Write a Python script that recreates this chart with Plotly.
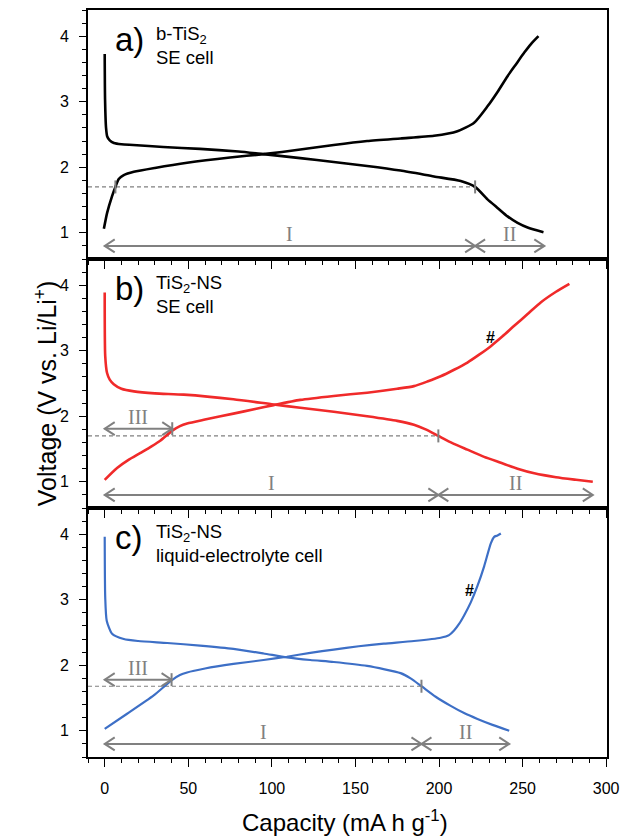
import plotly.graph_objects as go
from plotly.subplots import make_subplots

# ---------------- data ----------------
# panel a : b-TiS2, SE cell
a_dis_x = [0, 0.2, 0.8, 1.5, 3, 5.5, 10, 17, 35, 57, 80, 95, 117, 137, 157, 177, 197, 213, 221.6, 229, 235, 241, 247, 253, 262.5]
a_dis_y = [3.73, 3.04, 2.6, 2.47, 2.41, 2.37, 2.35, 2.34, 2.31, 2.28, 2.24, 2.2, 2.14, 2.08, 2.02, 1.95, 1.86, 1.79, 1.70, 1.51, 1.38, 1.25, 1.15, 1.08, 1.01]
a_chg_x = [-0.5, 1.4, 4.4, 6.4, 8.4, 11.4, 17.4, 30, 49.3, 75, 95, 117, 137, 157, 177, 197, 211, 221, 229, 235, 241, 246, 251, 255, 259.5]
a_chg_y = [1.06, 1.30, 1.56, 1.70, 1.82, 1.88, 1.93, 1.99, 2.07, 2.15, 2.2, 2.27, 2.34, 2.40, 2.44, 2.48, 2.55, 2.68, 2.93, 3.15, 3.39, 3.57, 3.75, 3.88, 4.0]

# panel b : TiS2-NS, SE cell
b_dis_x = [0, 0.3, 1.4, 3, 5.4, 10, 17.5, 30, 47.3, 77, 101, 117, 137, 157, 175, 185, 192, 199.6, 208, 217, 227, 237, 247, 257, 270, 282, 292]
b_dis_y = [3.89, 2.92, 2.66, 2.56, 2.49, 2.42, 2.38, 2.35, 2.33, 2.26, 2.18, 2.13, 2.07, 2.0, 1.93, 1.87, 1.8, 1.70, 1.59, 1.49, 1.38, 1.29, 1.2, 1.13, 1.07, 1.03, 1.0]
b_chg_x = [0, 7.4, 14, 21.4, 28, 33.4, 40.4, 45, 49.3, 60, 77, 90, 101, 117, 137, 157, 175, 185, 193, 201, 209, 217, 224, 231, 238, 245, 253, 261, 270, 278]
b_chg_y = [1.03, 1.21, 1.33, 1.44, 1.54, 1.63, 1.78, 1.85, 1.89, 1.95, 2.04, 2.11, 2.17, 2.25, 2.31, 2.36, 2.42, 2.46, 2.53, 2.61, 2.71, 2.82, 2.94, 3.07, 3.22, 3.38, 3.56, 3.74, 3.9, 4.02]

# panel c : TiS2-NS, liquid-electrolyte cell
c_dis_x = [0, 0.3, 1.2, 4.4, 11.4, 20, 37.4, 57, 77, 95, 109, 123, 137, 157, 177, 183, 189.5, 198, 207, 215, 223, 232, 242]
c_dis_y = [3.96, 3.04, 2.68, 2.48, 2.40, 2.37, 2.34, 2.30, 2.25, 2.18, 2.12, 2.08, 2.05, 1.99, 1.88, 1.80, 1.68, 1.52, 1.38, 1.27, 1.18, 1.09, 1.0]
c_chg_x = [0, 13.4, 29.3, 40, 45, 49.3, 60, 77, 95, 109, 123, 137, 152, 167, 185, 201, 206, 209, 212, 215, 219, 223, 227, 231, 233, 235, 237]
c_chg_y = [1.03, 1.26, 1.54, 1.77, 1.85, 1.89, 1.95, 2.02, 2.08, 2.13, 2.19, 2.24, 2.29, 2.33, 2.37, 2.42, 2.46, 2.53, 2.63, 2.76, 2.96, 3.21, 3.51, 3.86, 3.96, 3.98, 4.01]

# region boundaries (capacity) and voltages
cutoff_v = [1.70, 1.70, 1.68]
region_I_end = [221.6, 199.6, 189.5]
region_II_end = [263, 292, 242]
region_III_end = [None, 40.4, 40]
region_III_v = [None, 1.81, 1.78]
charge_cut_x = [6.4, None, None]
arrow_v = 0.8
hash_x = [None, 230.5, 218]
hash_y = [None, 3.2, 3.14]

panel_letters = ["a)", "b)", "c)"]
panel_line1 = ["b-TiS<sub>2</sub>", "TiS<sub>2</sub>-NS", "TiS<sub>2</sub>-NS"]
panel_line2 = ["SE cell", "SE cell", "liquid-electrolyte cell"]
colors = ["#000000", "#f02a2a", "#3d6fc6"]

x_ticks = [0, 50, 100, 150, 200, 250, 300]
y_ticks = [1, 2, 3, 4]

# ---------------- figure ----------------
XR = [-10, 300.5]
YR = [0.6, 4.4]
W, H = 620, 839
ML, MR, MT, MB = 88, 13, 10, 82
pw = W - ML - MR
ph = H - MT - MB
ph_panel = ph / 3
ux = pw / (XR[1] - XR[0])          # px per capacity unit
uy = ph_panel / (YR[1] - YR[0])    # px per volt

GRAY = "#808080"
FONT = "Arial, Liberation Sans, sans-serif"
SERIF = "Times New Roman, Liberation Serif, serif"

fig = make_subplots(rows=3, cols=1, vertical_spacing=0)

data = [(a_dis_x, a_dis_y, a_chg_x, a_chg_y),
        (b_dis_x, b_dis_y, b_chg_x, b_chg_y),
        (c_dis_x, c_dis_y, c_chg_x, c_chg_y)]

hx = 10 / ux     # chevron length
hy = 6.5 / uy    # chevron half-height
tk = 6.5 / uy    # small marker tick half-height


def double_arrow(x0, x1, y):
    xs = [x0, x1, None,
          x0 + hx, x0, x0 + hx, None,
          x1 - hx, x1, x1 - hx]
    ys = [y, y, None,
          y + hy, y, y - hy, None,
          y + hy, y, y - hy]
    return xs, ys


for i, (dx, dy, cx, cy) in enumerate(data):
    r = i + 1
    col = colors[i]
    # dashed cutoff line
    fig.add_trace(go.Scatter(x=[XR[0], region_I_end[i]], y=[cutoff_v[i], cutoff_v[i]], mode="lines",
                             line=dict(color=GRAY, width=1.2, dash="4px,3px"), showlegend=False,
                             hoverinfo="skip"), row=r, col=1)
    # curves
    for xs, ys in ((dx, dy), (cx, cy)):
        fig.add_trace(go.Scatter(x=xs, y=ys, mode="lines",
                                 line=dict(color=col, width=2.6 if i < 2 else 2.2, shape="spline", smoothing=0.6),
                                 showlegend=False), row=r, col=1)
    # region arrows
    ax, ay = [], []
    for (x0, x1, yv) in [(0, region_I_end[i], arrow_v),
                         (region_I_end[i], region_II_end[i], arrow_v)] + \
                        ([(0, region_III_end[i], region_III_v[i])] if region_III_end[i] else []):
        xs, ys = double_arrow(x0, x1, yv)
        ax += xs + [None]
        ay += ys + [None]
    # small vertical marks
    marks = [(region_I_end[i], cutoff_v[i])]
    if region_III_end[i]:
        marks.append((region_III_end[i], region_III_v[i]))
    if charge_cut_x[i]:
        marks.append((charge_cut_x[i], cutoff_v[i]))
    for mx, my in marks:
        ax += [mx, mx, None]
        ay += [my - tk, my + tk, None]
    fig.add_trace(go.Scatter(x=ax, y=ay, mode="lines", line=dict(color=GRAY, width=2),
                             showlegend=False, hoverinfo="skip"), row=r, col=1)

    # region labels
    xa = "x" if r == 1 else f"x{r}"
    ya = "y" if r == 1 else f"y{r}"
    labels = [("I", (0 + region_I_end[i]) / 2, arrow_v),
              ("II", (region_I_end[i] + region_II_end[i]) / 2, arrow_v)]
    if region_III_end[i]:
        labels.append(("III", region_III_end[i] / 2, region_III_v[i]))
    for t, lx, ly in labels:
        fig.add_annotation(x=lx, y=ly, xref=xa, yref=ya, text=t, showarrow=False,
                           yanchor="bottom", yshift=-1,
                           font=dict(family=SERIF, size=20, color=GRAY))
    # hash marks
    if hash_x[i] is not None:
        fig.add_annotation(x=hash_x[i], y=hash_y[i], xref=xa, yref=ya, text="<b>#</b>", showarrow=False,
                           font=dict(family=FONT, size=16, color="black"))
    # panel texts
    fig.add_annotation(x=0.048, y=0.965, xref=f"{xa} domain", yref=f"{ya} domain", text=panel_letters[i],
                       showarrow=False, xanchor="left", yanchor="top",
                       font=dict(family=FONT, size=33, color="black"))
    fig.add_annotation(x=0.128, y=0.955, xref=f"{xa} domain", yref=f"{ya} domain",
                       text=panel_line1[i] + "<br>" + panel_line2[i], align="left",
                       showarrow=False, xanchor="left", yanchor="top",
                       font=dict(family=FONT, size=18.5, color="black"))

for r in range(1, 4):
    fig.update_xaxes(range=XR, tickvals=x_ticks, ticks="outside", ticklen=8, tickwidth=1.3,
                     tickcolor="black", showline=True, linecolor="black", linewidth=1.6, mirror=True,
                     showgrid=False, zeroline=False, showticklabels=(r == 3), automargin=False,
                     ticklabelstandoff=8,
                     tickfont=dict(family=FONT, size=16, color="black"),
                     minor=dict(dtick=10, tick0=0, ticks="outside", ticklen=4, tickwidth=1.2, tickcolor="black"),
                     row=r, col=1)
    fig.update_yaxes(range=YR, tickvals=y_ticks, ticks="outside", ticklen=7, tickwidth=1.3,
                     tickcolor="black", showline=True, linecolor="black", linewidth=1.6, mirror=True,
                     showgrid=False, zeroline=False, ticklabelstandoff=7, automargin=False,
                     tickfont=dict(family=FONT, size=16, color="black"),
                     minor=dict(dtick=0.2, tick0=0, ticks="outside", ticklen=4, tickwidth=1.2, tickcolor="black"),
                     row=r, col=1)

# axis titles
fig.add_annotation(x=(28 - ML) / pw, y=0.487, xref="paper", yref="paper", text="Voltage (V vs. Li/Li<sup>+</sup>)",
                   textangle=-90, showarrow=False, font=dict(family=FONT, size=25, color="black"))
fig.add_annotation(x=(345 - ML) / pw, y=(H - MB - 838) / ph, xref="paper", yref="paper",
                   yanchor="bottom", text="Capacity (mA h g<sup>-1</sup>)", showarrow=False,
                   font=dict(family=FONT, size=24, color="black"))

fig.update_layout(width=W, height=H, margin=dict(l=ML, r=MR, t=MT, b=MB),
                  plot_bgcolor="white", paper_bgcolor="white", showlegend=False)

fig.write_html("out.html", config={"displayModeBar": False},
               post_script="document.body.style.margin='0';document.body.style.overflow='hidden';")
